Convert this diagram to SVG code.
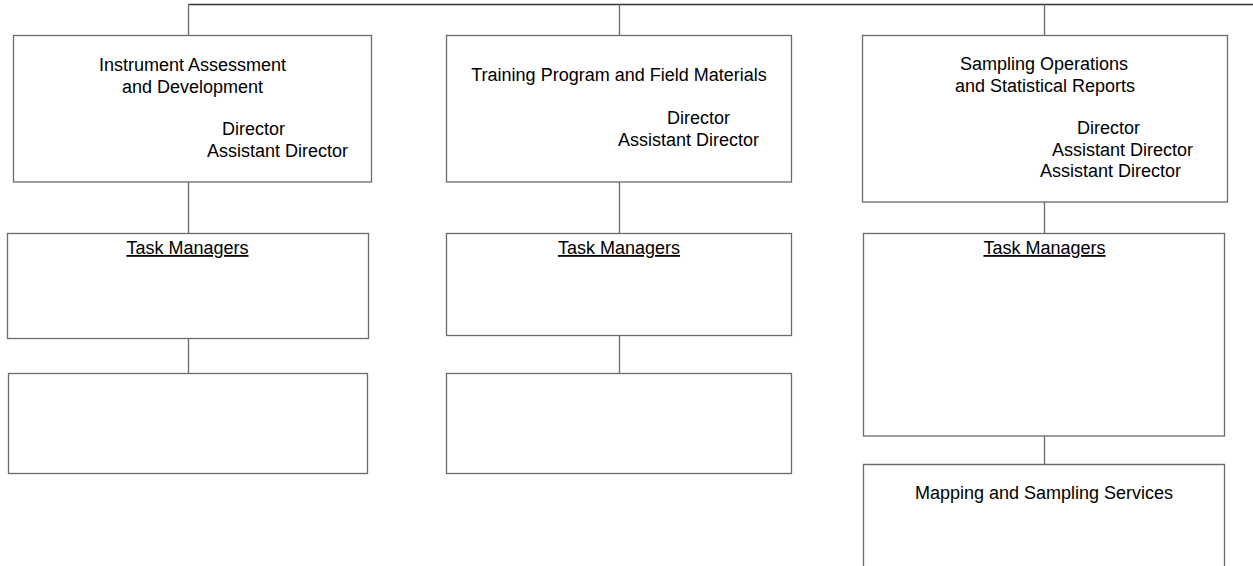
<svg xmlns="http://www.w3.org/2000/svg" width="1253" height="566" viewBox="0 0 1253 566">
<style>
.box{fill:#fff;stroke:#6b6b6b;stroke-width:1.3}
.con{stroke:#6b6b6b;stroke-width:1.3;fill:none}
.top{stroke:#333;stroke-width:1.3;fill:none}
text{font-family:"Liberation Sans",Arial,sans-serif;font-size:18px;fill:#000}
.c{text-anchor:middle}
.u{text-decoration:underline}
</style>
<rect width="1253" height="566" fill="#fff"/>
<g id="connectors">
<path class="top" d="M188.5 4.5H1253"/>
<path class="con" d="M188.5 4.5V35.5M619.5 4.5V35.5M1044.5 4.5V35.5"/>
<path class="con" d="M188.5 182V233.5M619.5 182V233.5M1044.5 202V233.5"/>
<path class="con" d="M188.5 338.5V373.5M619.5 335.5V373.5M1044.5 436V464.5"/>
</g>
<g id="instrument">
<rect class="box" x="13.5" y="35.5" width="358" height="146.5"/>
<text class="c" x="192.5" y="71">Instrument Assessment</text>
<text class="c" x="192.5" y="93">and Development</text>
<text x="222" y="135">Director</text>
<text x="207" y="157">Assistant Director</text>
</g>
<g id="training">
<rect class="box" x="446.5" y="35.5" width="345" height="146.5"/>
<text class="c" x="619" y="81">Training Program and Field Materials</text>
<text x="667" y="124">Director</text>
<text x="618" y="146">Assistant Director</text>
</g>
<g id="sampling">
<rect class="box" x="862.5" y="35.5" width="365" height="166.5"/>
<text class="c" x="1044" y="70">Sampling Operations</text>
<text class="c" x="1045" y="92">and Statistical Reports</text>
<text x="1077" y="134">Director</text>
<text x="1052" y="156">Assistant Director</text>
<text x="1040" y="177">Assistant Director</text>
</g>
<g id="tm1">
<rect class="box" x="7.5" y="233.5" width="361" height="105"/>
<text class="c u" x="187.5" y="254">Task Managers</text>
</g>
<g id="tm2">
<rect class="box" x="446.5" y="233.5" width="345" height="102"/>
<text class="c u" x="619" y="254">Task Managers</text>
</g>
<g id="tm3">
<rect class="box" x="863.5" y="233.5" width="361" height="202.5"/>
<text class="c u" x="1044.5" y="254">Task Managers</text>
</g>
<g id="sub1">
<rect class="box" x="8.5" y="373.5" width="359" height="100"/>
</g>
<g id="sub2">
<rect class="box" x="446.5" y="373.5" width="345" height="100"/>
</g>
<g id="mapping">
<path class="box" d="M863.5 570V464.5H1224.5V570"/>
<text class="c" x="1044" y="499">Mapping and Sampling Services</text>
</g>
</svg>
